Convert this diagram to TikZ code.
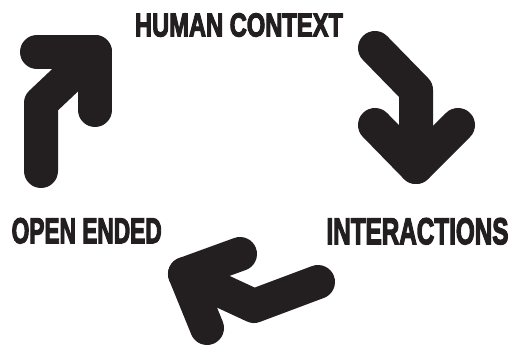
\documentclass[tikz,border=0pt]{standalone}
\usepackage{fontspec}
\usepackage{graphicx}
\newfontfamily\lblfont{Liberation Sans Bold}[FakeBold=4]
\definecolor{ink}{HTML}{231F20}
\begin{document}
\begin{tikzpicture}[x=1pt,y=-1pt,
  arrowline/.style={line width=34pt, line cap=round, line join=round, draw=ink},
  lbl/.style={inner sep=0pt, text=ink, font=\lblfont}]
\useasboundingbox (0,0) rectangle (512,352);
% arrow 1 (up-right)
\coordinate (a1s) at (41,171);
\coordinate (a1b) at (41,103);
\coordinate (a1t) at (95,52);
\coordinate (a1l) at (37,52);
\coordinate (a1r) at (95,110);
\draw[arrowline] (a1s) -- (a1b) -- (a1t);
\draw[arrowline] (a1l) -- (a1t) -- (a1r);
% arrow 2 (down)
\coordinate (a2s) at (375,48);
\coordinate (a2b) at (416,90);
\coordinate (a2t) at (416,167);
\coordinate (a2l) at (375,125);
\coordinate (a2r) at (458,125);
\draw[arrowline] (a2s) -- (a2b) -- (a2t);
\draw[arrowline] (a2l) -- (a2t) -- (a2r);
% arrow 3 (up-left)
\coordinate (a3s) at (318,282);
\coordinate (a3b) at (254,306);
\coordinate (a3t) at (185,274);
\coordinate (a3u) at (240,254);
\coordinate (a3d) at (207,328);
\draw[arrowline] (a3s) -- (a3b) -- (a3t);
\draw[arrowline] (a3u) -- (a3t) -- (a3d);
% labels
\node[lbl] (hc) at (239,25) {\resizebox{208pt}{23pt}{HUMAN CONTEXT}};
\node[lbl] (oe) at (86.7,230.8) {\resizebox{150pt}{25pt}{OPEN ENDED}};
\node[lbl] (ia) at (417.5,231.3) {\resizebox{182pt}{26pt}{INTERACTIONS}};
\end{tikzpicture}
\end{document}
